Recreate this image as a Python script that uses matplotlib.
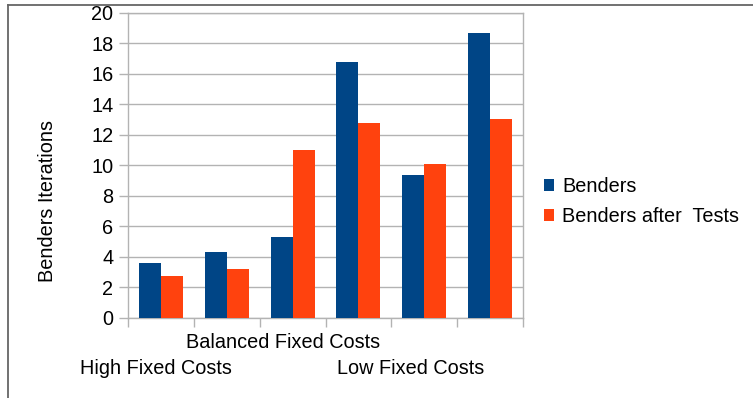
import matplotlib
matplotlib.use("Agg")
import matplotlib.pyplot as plt
import numpy as np
import matplotlib.transforms as mtrans
from matplotlib.lines import Line2D
from matplotlib.patches import Patch

categories = ["High Fixed Costs", "", "Balanced Fixed Costs", "", "Low Fixed Costs", ""]
benders = [3.6, 4.3, 5.25, 16.75, 9.35, 18.7]
benders_after_tests = [2.75, 3.2, 11.0, 12.75, 10.05, 13.05]
series_names = ["Benders", "Benders after  Tests"]
y_ticks = [0, 2, 4, 6, 8, 10, 12, 14, 16, 18, 20]
y_label = "Benders Iterations"

# label offsets (LibreOffice staggered labels)
label_offsets = [-0.08, 0, -0.145, 0, -0.21, 0]
label_rows = [1, 0, 0, 0, 1, 0]

plt.rcParams['font.family'] = ['Liberation Sans', 'DejaVu Sans']
FS = 14.3
BLUE = "#004586"
ORANGE = "#ff420e"
GRID = "#b3b3b3"

fig = plt.figure(figsize=(7.53, 3.98), dpi=100)
ax = fig.add_axes([128/753, 1-317.5/398, (523-128)/753, (317.5-12.7)/398])

x = np.arange(len(categories))
w = 1/3
ax.bar(x - w/2, benders, width=w, color=BLUE, label=series_names[0], zorder=3)
ax.bar(x + w/2, benders_after_tests, width=w, color=ORANGE, label=series_names[1], zorder=3)

ax.set_xlim(-0.5, len(categories) - 0.5)
ax.set_ylim(0, 20)
ax.set_yticks(y_ticks)
ax.yaxis.grid(True, color=GRID, linewidth=1.0, zorder=0)
ax.set_axisbelow(True)
for s in ax.spines.values():
    s.set_color(GRID)
    s.set_linewidth(1.0)

ax.tick_params(axis='y', length=6.5, width=1.0, color=GRID, labelsize=FS, pad=4, labelcolor='black')
ax.set_xticks(np.arange(-0.5, len(categories), 1.0))
ax.set_xticklabels([])
ax.tick_params(axis='x', length=6.5, width=1.0, color=GRID)

# category labels (staggered rows)
trans = mtrans.blended_transform_factory(ax.transData, fig.transFigure)
row_y = {0: 1-343/398, 1: 1-368/398}
for i, lab in enumerate(categories):
    if lab:
        ax.text(i + label_offsets[i], row_y[label_rows[i]], lab, transform=trans,
                ha='center', va='center', fontsize=FS, color='black')

fig.text(48/753, 1-201/398, y_label, rotation=90, ha='center', va='center', fontsize=FS, color='black')

handles = [Patch(facecolor=BLUE, edgecolor='none'), Patch(facecolor=ORANGE, edgecolor='none')]
fig.legend(handles, series_names, loc='center left', bbox_to_anchor=(544/753, 1-201.5/398),
           frameon=False, fontsize=FS, handlelength=0.5, handleheight=0.5,
           handletextpad=0.4, labelspacing=0.56, borderpad=0, borderaxespad=0)

# outer frame lines (left and top)
fig.add_artist(Line2D([7.5/753, 7.5/753], [0, 1-4.5/398], transform=fig.transFigure, color="#666666", linewidth=1.3))
fig.add_artist(Line2D([7.5/753, 1], [1-4.5/398, 1-4.5/398], transform=fig.transFigure, color="#666666", linewidth=1.3))

fig.savefig("out.png", dpi=100)
